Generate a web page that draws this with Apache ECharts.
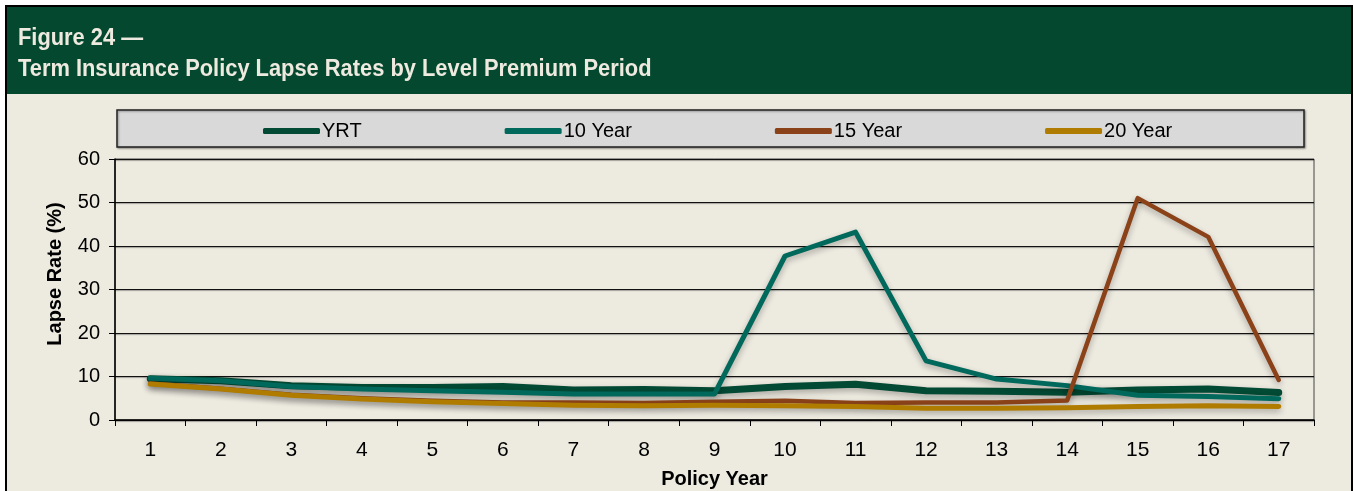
<!DOCTYPE html>
<html>
<head>
<meta charset="utf-8">
<script src="https://cdn.jsdelivr.net/npm/echarts@6/dist/echarts.min.js"></script>
<style>
html,body{margin:0;padding:0;background:#fff;}
#chart{width:1354px;height:491px;}
</style>
</head>
<body>
<div id="chart"></div>
<script>
const titleLine1 = 'Figure 24 —';
const titleLine2 = 'Term Insurance Policy Lapse Rates by Level Premium Period';
const policyYears = ['1','2','3','4','5','6','7','8','9','10','11','12','13','14','15','16','17'];
const seriesNames = ['YRT', '10 Year', '15 Year', '20 Year'];
const yrt         = [9.5, 9.0, 7.9, 7.5, 7.5, 7.7, 6.9, 7.0, 6.7, 7.7, 8.2, 6.7, 6.6, 6.4, 6.9, 7.1, 6.3];
const tenYear     = [9.6, 9.0, 7.7, 7.1, 6.7, 6.4, 6.0, 6.0, 6.0, 37.7, 43.2, 13.6, 9.4, 7.9, 5.7, 5.4, 4.9];
const fifteenYear = [8.4, 7.2, 5.8, 5.0, 4.4, 4.0, 4.0, 3.9, 4.2, 4.4, 3.9, 4.0, 4.0, 4.5, 51.0, 42.1, 9.2];
const twentyYear  = [8.3, 7.1, 5.7, 4.8, 4.2, 3.8, 3.4, 3.3, 3.4, 3.3, 3.1, 2.7, 2.7, 2.8, 3.1, 3.3, 3.1];
const yTicks = [0, 60, 10];

const narrow = '"Liberation Sans Narrow", "Arial Narrow", "Liberation Sans", sans-serif';
const sans = '"Liberation Sans", Arial, sans-serif';
const colors = ['#024a33', '#00695c', '#8b4219', '#b07c00'];
const widths = [7, 5, 4.5, 5];
const dataSets = [yrt, tenYear, fifteenYear, twentyYear];

const chart = echarts.init(document.getElementById('chart'), null, {renderer: 'canvas'});
chart.setOption({
  backgroundColor: '#ffffff',
  animation: false,
  graphic: [
    {type: 'rect', z: -10, shape: {x: 6, y: 6, width: 1346, height: 500},
     style: {fill: '#edeae0', stroke: '#000', lineWidth: 2}},
    {type: 'rect', z: -9, shape: {x: 7, y: 7, width: 1344, height: 87},
     style: {fill: '#03482f'}},
    {type: 'text', z: 10, x: 18, y: 27, scaleX: 0.95,
     style: {text: titleLine1, fill: '#eeeadf', font: 'bold 23px ' + narrow}},
    {type: 'text', z: 10, x: 18, y: 58, scaleX: 0.95,
     style: {text: titleLine2, fill: '#eeeadf', font: 'bold 23px ' + narrow}},
    {type: 'rect', z: -5, shape: {x: 117, y: 110, width: 1187, height: 37},
     style: {fill: '#d9d9d9', stroke: '#222', lineWidth: 1.5,
             shadowColor: 'rgba(0,0,0,0.35)', shadowBlur: 2, shadowOffsetX: 1, shadowOffsetY: 1}},
    {type: 'text', z: 10, x: 55, y: 274, rotation: Math.PI / 2,
     style: {text: 'Lapse Rate (%)', fill: '#000', font: 'bold 20px ' + sans,
             align: 'center', verticalAlign: 'middle'}}
  ],
  legend: {
    data: seriesNames,
    left: 258, top: 116,
    itemWidth: 57, itemHeight: 6, itemGap: 143,
    icon: 'roundRect',
    textStyle: {fontFamily: narrow, fontSize: 20, color: '#000', padding: [0, 0, 0, -3]}
  },
  grid: {
    left: 115, right: 40, top: 159, bottom: 71,
    outerBoundsMode: 'none', containLabel: false,
    show: true, borderColor: '#444', borderWidth: 1, backgroundColor: 'transparent'
  },
  xAxis: {
    type: 'category', data: policyYears, boundaryGap: true,
    name: 'Policy Year', nameLocation: 'middle', nameGap: 49,
    nameTextStyle: {fontFamily: sans, fontWeight: 'bold', fontSize: 20, color: '#000'},
    axisLine: {lineStyle: {color: '#000', width: 1.5}},
    axisTick: {show: true, length: 6, alignWithLabel: false, lineStyle: {color: '#000'}},
    axisLabel: {fontFamily: narrow, fontSize: 21, color: '#000', margin: 20}
  },
  yAxis: {
    type: 'value', min: yTicks[0], max: yTicks[1], interval: yTicks[2],
    axisLine: {show: true, lineStyle: {color: '#000', width: 1.5}},
    axisTick: {show: true, length: 6, lineStyle: {color: '#000'}},
    axisLabel: {fontFamily: narrow, fontSize: 20, color: '#000', margin: 15},
    splitLine: {lineStyle: {color: '#111', width: 1.2, shadowColor: 'rgba(0,0,0,0.35)', shadowBlur: 1, shadowOffsetY: 1}}
  },
  series: seriesNames.map((n, i) => ({
    name: n, type: 'line', data: dataSets[i],
    symbol: 'none', smooth: false,
    color: colors[i],
    lineStyle: {color: colors[i], width: widths[i], cap: 'round', join: 'round',
                shadowColor: 'rgba(0,0,0,0.3)', shadowBlur: 6, shadowOffsetY: 3},
    z: 3 + i
  }))
});
</script>
</body>
</html>
